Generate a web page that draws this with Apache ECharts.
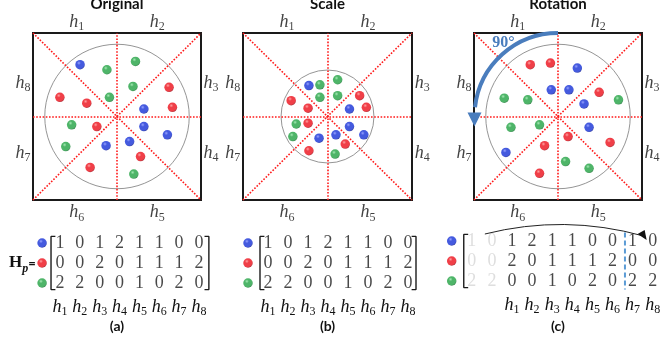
<!DOCTYPE html>
<html><head><meta charset="utf-8">
<script src="https://cdn.jsdelivr.net/npm/echarts@6/dist/echarts.min.js"></script>
<style>html,body{margin:0;padding:0;background:#fff}#c{width:665px;height:345px}</style>
</head><body><div id="c"></div>
<script>
// ---------------- data ----------------
const panelTitles = ['Original', 'Scale', 'Rotation'];
const panelTags = ['(a)', '(b)', '(c)'];
const binNames = ['1', '2', '3', '4', '5', '6', '7', '8'];   // h subscripts
const circleRadius = [0.86, 0.55, 0.86];

const origBlue  = [[-0.44,0.62],[0.32,0.09],[0.32,-0.12],[0.60,-0.22],[0.15,-0.30],[-0.13,-0.35]];
const origGreen = [[0.22,0.66],[-0.12,0.56],[0.19,0.36],[-0.09,0.23],[-0.54,-0.10],[-0.61,-0.36],[0.20,-0.69]];
const origRed   = [[0.62,0.35],[-0.68,0.23],[-0.36,0.16],[0.66,0.11],[-0.24,-0.12],[0.28,-0.48],[-0.32,-0.61]];

const scaleBlue  = [[-0.22,0.37],[0.26,0.09],[0.26,-0.12],[0.43,-0.22],[0.10,-0.22],[-0.10,-0.26]];
const scaleGreen = [[0.12,0.44],[-0.09,0.38],[-0.09,0.23],[0.12,0.25],[-0.37,-0.09],[-0.41,-0.24],[0.09,-0.45]];
const scaleRed   = [[-0.43,0.19],[-0.23,0.10],[0.38,0.25],[0.46,0.11],[-0.23,-0.08],[0.21,-0.33],[-0.22,-0.41]];

const rotBlue  = [[0.23,0.58],[-0.08,0.32],[0.13,0.32],[0.31,0.15],[0.37,-0.13],[-0.62,-0.43]];
const rotGreen = [[-0.64,0.22],[-0.36,0.20],[0.72,0.20],[-0.56,-0.13],[-0.22,-0.10],[0.09,-0.54],[0.37,-0.62]];
const rotRed   = [[-0.33,0.62],[-0.09,0.64],[0.49,0.29],[0.12,-0.24],[0.62,-0.31],[-0.16,-0.35],[-0.22,-0.68]];

// histogram matrices (rows: blue, red, green; columns h1..h8)
const histBlue  = [1,0,1,2,1,1,0,0];
const histRed   = [0,0,2,0,1,1,1,2];
const histGreen = [2,2,0,0,1,0,2,0];
// rotated histogram (c)
const rotHistBlue  = [1,2,1,1,0,0,1,0];
const rotHistRed   = [2,0,1,1,1,2,0,0];
const rotHistGreen = [0,0,1,0,2,0,2,2];
// columns shifted out in (c), shown faded
const shiftedBlue  = [1,0];
const shiftedRed   = [0,0];
const shiftedGreen = [2,2];
const rotationLabel = '90°';

// ---------------- layout / style ----------------
const BLUE = '#1631d6', RED = '#ec0f1a', GREEN = '#22a243';
function ball(c, hi, lo) {
  return new echarts.graphic.RadialGradient(0.38, 0.32, 0.7, [
    {offset: 0, color: hi}, {offset: 0.3, color: c}, {offset: 0.8, color: c}, {offset: 1, color: lo}]);
}
const ballStyle = {
  blue: ball(BLUE, '#7d8bff', '#0c1b95'),
  red: ball(RED, '#ff8a8a', '#a00510'),
  green: ball(GREEN, '#8fe4a2', '#14722e')
};
const panelGrids = [
  {left: 33, top: 33, width: 168, height: 167},
  {left: 243, top: 33, width: 169, height: 167},
  {left: 474, top: 33, width: 168, height: 167}
];
const matGrids = [
  {left: 40.1, top: 233, width: 178.7, height: 60, min: -1, max: 8, ballCol: -0.9, lb: -0.45, rb: 7.5},
  {left: 248, top: 233, width: 180, height: 60, min: -1, max: 8, ballCol: -1, lb: -0.4, rb: 7.4},
  {left: 451.7, top: 231, width: 201, height: 60, min: -3, max: 7, ballCol: -3, lb: -2.4, rb: 7.38}
];
const labelPos = [[-0.48,1.13],[0.48,1.13],[1.12,0.40],[1.12,-0.44],[0.48,-1.15],[-0.48,-1.15],[-1.12,-0.44],[-1.12,0.40]];
const SERIF = '"Liberation Serif", "DejaVu Serif", serif';
const hRich = {
  h: {fontFamily: SERIF, fontStyle: 'italic', fontSize: 18, lineHeight: 18, verticalAlign: 'top', color: '#111'},
  s: {fontFamily: SERIF, fontSize: 12, lineHeight: 12, padding: [8, 0, 0, 0], verticalAlign: 'top', color: '#111'}
};
const hText = i => '{h|h}{s|' + binNames[i] + '}';

const grids = [], xAxes = [], yAxes = [], series = [];
const pts = [[origBlue, origRed, origGreen], [scaleBlue, scaleRed, scaleGreen], [rotBlue, rotRed, rotGreen]];

panelGrids.forEach((g, i) => {
  grids.push(Object.assign({show: true, borderColor: '#1a1a1a', borderWidth: 2, backgroundColor: 'transparent'}, g));
  xAxes.push({gridIndex: i, type: 'value', min: -1, max: 1, show: false});
  yAxes.push({gridIndex: i, type: 'value', min: -1, max: 1, show: false});
  const ax = {xAxisIndex: i, yAxisIndex: i};
  // circle
  series.push(Object.assign({type: 'scatter', data: [[0, 0]], symbolSize: circleRadius[i] * g.width,
    itemStyle: {color: 'rgba(0,0,0,0)', borderColor: '#7a7a7a', borderWidth: 1}, silent: true, z: 1}, ax));
  // dotted sector lines
  series.push(Object.assign({type: 'line', data: [], silent: true, z: 2,
    markLine: {silent: true, symbol: ['none', 'none'], label: {show: false},
      lineStyle: {color: '#ff1a1a', type: 'dotted', width: 1.6},
      data: [[{coord: [-1, -1]}, {coord: [1, 1]}], [{coord: [-1, 1]}, {coord: [1, -1]}],
             [{coord: [0, -1]}, {coord: [0, 1]}], [{coord: [-1, 0]}, {coord: [1, 0]}]]}}, ax));
  // balls
  [['blue', 0], ['red', 1], ['green', 2]].forEach(([k, j]) => {
    series.push(Object.assign({type: 'scatter', data: pts[i][j], symbolSize: 9.5, z: 5,
      itemStyle: {color: ballStyle[k]}}, ax));
  });
  // h labels
  series.push(Object.assign({type: 'scatter', clip: false, symbolSize: 0, silent: true,
    data: labelPos.map((p, k) => ({value: p, name: hText(k)})),
    label: {show: true, position: 'inside', formatter: p => p.name, rich: hRich}}, ax));
});

// matrices
const mats = [
  {rows: [histBlue, histRed, histGreen]},
  {rows: [histBlue, histRed, histGreen]},
  {rows: [rotHistBlue, rotHistRed, rotHistGreen], faded: [shiftedBlue, shiftedRed, shiftedGreen]}
];
matGrids.forEach((m, j) => {
  const gi = 3 + j;
  grids.push({left: m.left, top: m.top, width: m.width, height: m.height});
  xAxes.push({gridIndex: gi, type: 'value', min: m.min, max: m.max, interval: 1, position: 'bottom',
    axisLine: {show: false}, axisTick: {show: false}, splitLine: {show: false},
    axisLabel: {margin: 5, rich: hRich, formatter: v => (v >= 0 && v <= 7) ? hText(v) : ''}});
  yAxes.push({gridIndex: gi, type: 'value', min: -0.5, max: 2.5, inverse: true, show: false});
  const ax = {xAxisIndex: gi, yAxisIndex: gi};
  const cells = [];
  mats[j].rows.forEach((row, r) => row.forEach((v, c) => cells.push([c, r, v])));
  series.push(Object.assign({type: 'scatter', data: cells, symbolSize: 1, itemStyle: {color: 'rgba(0,0,0,0)'},
    label: {show: true, position: 'inside', formatter: p => String(p.value[2]),
      fontFamily: SERIF, fontSize: 18, color: '#1a1a1a'}}, ax));
  if (mats[j].faded) {
    const f = [];
    mats[j].faded.forEach((row, r) => row.forEach((v, c) => f.push([c - row.length, r, v])));
    series.push(Object.assign({type: 'scatter', data: f, symbolSize: 1, itemStyle: {color: 'rgba(0,0,0,0)'},
      label: {show: true, position: 'inside', formatter: p => String(p.value[2]),
        fontFamily: SERIF, fontSize: 18, color: '#d6d6d6'}}, ax));
    // dashed separator
    series.push(Object.assign({type: 'line', data: [[5.62, -0.42], [5.62, 2.42]], symbol: 'none', silent: true,
      lineStyle: {color: '#5b9bd5', type: [5, 3], width: 2}}, ax));
  }
  [['blue', 0], ['red', 1], ['green', 2]].forEach(([k, r]) => {
    series.push(Object.assign({type: 'scatter', data: [[m.ballCol, r]], symbolSize: 9.5, z: 5,
      itemStyle: {color: ballStyle[k]}}, ax));
  });
  // brackets
  const t = -0.33, b = 2.33, w = 0.22;
  series.push(Object.assign({type: 'line', data: [[m.lb + w, t], [m.lb, t], [m.lb, b], [m.lb + w, b]],
    symbol: 'none', silent: true, lineStyle: {color: '#1a1a1a', width: 1.4}}, ax));
  series.push(Object.assign({type: 'line', data: [[m.rb - w, t], [m.rb, t], [m.rb, b], [m.rb - w, b]],
    symbol: 'none', silent: true, lineStyle: {color: '#1a1a1a', width: 1.4}}, ax));
});

const chart = echarts.init(document.getElementById('c'), null, {renderer: 'canvas'});
chart.setOption({animation: false, backgroundColor: '#fff', grid: grids, xAxis: xAxes, yAxis: yAxes, series: series});

// graphics (titles, tags, arrows)
const gr = [];
panelGrids.forEach((g, i) => {
  const cx = g.left + g.width / 2;
  gr.push({type: 'text', x: cx, y: 4, style: {text: panelTitles[i], align: 'center', verticalAlign: 'middle',
    font: 'bold 15px Lato, "Open Sans", sans-serif', fill: '#111'}});
  gr.push({type: 'text', x: cx, y: 326, style: {text: panelTags[i], align: 'center', verticalAlign: 'middle',
    font: 'bold 14px Lato, "Open Sans", sans-serif', fill: '#111'}});
});
gr.push({type: 'text', x: 9, y: 263, style: {text: '{H|H}{p|p}{e|=}', verticalAlign: 'middle', rich: {
  H: {fontFamily: SERIF, fontWeight: 'bold', fontSize: 17, lineHeight: 17, verticalAlign: 'top', fill: '#111'},
  p: {fontFamily: SERIF, fontWeight: 'bold', fontStyle: 'italic', fontSize: 12, lineHeight: 12, padding: [8, 0, 0, 0], verticalAlign: 'top', fill: '#111'},
  e: {fontFamily: 'Lato, sans-serif', fontWeight: 'bold', fontSize: 13, lineHeight: 13, padding: [3, 0, 0, 0], verticalAlign: 'top', fill: '#111'}}}});
// rotation arc
const c0 = chart.convertToPixel({gridIndex: 2}, [0, 0]);
const c1 = chart.convertToPixel({gridIndex: 2}, [0, 1]);
const R = c0[1] - c1[1];
const ARC = '#4a7dbd';
gr.push({type: 'arc', z: 50, shape: {cx: c0[0], cy: c0[1], r: R, startAngle: Math.PI + 0.11, endAngle: Math.PI * 1.5, clockwise: true},
  style: {stroke: ARC, lineWidth: 4, fill: null}});
gr.push({type: 'polygon', z: 50, shape: {points: [[c0[0] - R - 7, c0[1] - 4], [c0[0] - R + 7, c0[1] - 4], [c0[0] - R, c0[1] + 10]]},
  style: {fill: ARC}});
gr.push({type: 'text', z: 50, x: c0[0] - R + 29, y: c1[1] + 10, style: {text: rotationLabel, align: 'center', verticalAlign: 'middle',
  font: 'bold 16px ' + SERIF, fill: ARC}});
// shift arrow in (c)
const pA = chart.convertToPixel({gridIndex: 5}, [-1.35, -0.35]);
const pB = chart.convertToPixel({gridIndex: 5}, [6.55, -0.25]);
gr.push({type: 'bezierCurve', z: 50, shape: {x1: pA[0], y1: pA[1], x2: pB[0], y2: pB[1], cpx1: (pA[0] + pB[0]) / 2, cpy1: pA[1] - 20},
  style: {stroke: '#222', lineWidth: 1, fill: null}});
gr.push({type: 'polygon', z: 50, shape: {points: [[pB[0] + 3, pB[1] + 4], [pB[0] - 6, pB[1] - 2], [pB[0] + 1, pB[1] - 6]]},
  style: {fill: '#111'}});
chart.setOption({graphic: gr});
</script></body></html>
